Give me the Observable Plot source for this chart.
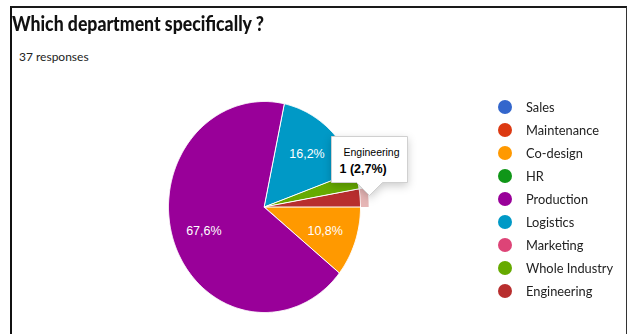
<!DOCTYPE html>
<html>
<head>
<meta charset="utf-8">
<script src="https://cdn.jsdelivr.net/npm/d3@7"></script>
<script src="https://cdn.jsdelivr.net/npm/@observablehq/plot@0.6"></script>
<style>
  html, body { margin: 0; padding: 0; background: #fff; }
  body { width: 628px; height: 334px; position: relative; overflow: hidden; }
  #frame { position: absolute; left: 10px; top: 6px; width: 617px; height: 340px; box-sizing: border-box;
           border-top: 2px solid #1a1a1a; border-left: 2px solid #111; border-right: 1.5px solid #333; pointer-events: none; }
  #title { position: absolute; left: 12px; top: 10px; font-family: Lato, sans-serif; font-weight: 900; font-size: 21px;
           color: #111; white-space: nowrap; transform-origin: 0 0; transform: scaleX(0.84); }
  #sub { position: absolute; left: 19px; top: 49px; font-family: Lato, sans-serif; font-size: 12px; color: #222; white-space: nowrap; }
  #chart { position: absolute; left: 0; top: 0; }
  #legend { position: absolute; left: 498px; top: 95px; font-family: Lato, sans-serif; font-size: 13.5px; color: #222; }
  .item { height: 23.1px; display: flex; align-items: center; white-space: nowrap; }
  .sw { width: 14px; height: 14px; border-radius: 50%; margin-right: 14px; flex: none; }
  .lab { display: inline-block; transform-origin: 0 50%; transform: scaleX(0.95); }
</style>
</head>
<body>
<div id="chart"></div>
<div id="title"></div>
<div id="sub"></div>
<div id="legend"></div>
<div id="frame"></div>
<script>
const titleText = "Which department specifically ?";
const totalResponses = 37;
const categories = ["Sales", "Maintenance", "Co-design", "HR", "Production", "Logistics", "Marketing", "Whole Industry", "Engineering"];
const counts = [0, 0, 4, 0, 25, 6, 0, 1, 1];
const colors = ["#3366cc", "#dc3912", "#ff9900", "#109618", "#990099", "#0099c6", "#dd4477", "#66aa00", "#b82e2e"];
const highlighted = "Engineering";

const table = categories.map((label, i) => ({label, count: counts[i]}));
const fmtPct = v => (Math.round(v * 1000) / 10).toFixed(1).replace(".", ",") + "%";

const arcs = d3.pie().value(d => d.count).sort(null)
  .startAngle(Math.PI / 2).endAngle(Math.PI / 2 + 2 * Math.PI)(table)
  .filter(a => a.data.count > 0);

function ring(a0, a1, r0, r1) {
  const pts = [];
  const n = Math.max(2, Math.ceil((a1 - a0) / 0.01));
  for (let i = 0; i <= n; i++) { const t = a0 + (a1 - a0) * i / n; pts.push([r1 * Math.sin(t), r1 * Math.cos(t)]); }
  if (r0 === 0) pts.push([0, 0]);
  else for (let i = n; i >= 0; i--) { const t = a0 + (a1 - a0) * i / n; pts.push([r0 * Math.sin(t), r0 * Math.cos(t)]); }
  return pts;
}

const slicePts = arcs.flatMap(a => ring(a.startAngle, a.endAngle, 0, 1).map(([x, y]) => ({label: a.data.label, x, y})));
const hi = arcs.find(a => a.data.label === highlighted);
const hiPts = ring(hi.startAngle, hi.endAngle, 1, 1.085).map(([x, y]) => ({label: hi.data.label, x, y}));

const labels = arcs.filter(a => a.data.count / totalResponses >= 0.05).map(a => {
  const m = (a.startAngle + a.endAngle) / 2, r = 0.67;
  return {x: r * Math.sin(m), y: r * Math.cos(m), text: fmtPct(a.data.count / totalResponses)};
});

const hm = (hi.startAngle + hi.endAngle) / 2;
const tipData = [{x: Math.sin(hm), y: Math.cos(hm), title: `${hi.data.label}\n${hi.data.count} (${fmtPct(hi.data.count / totalResponses)})`}];

const chart = Plot.plot({
  width: 628, height: 334, margin: 0,
  style: {background: "transparent", fontFamily: "'Liberation Sans', Arial, sans-serif"},
  x: {domain: [-1, 1], range: [168, 360], axis: null},
  y: {domain: [-1, 1], range: [312, 101], axis: null},
  color: {domain: categories, range: colors},
  marks: [
    Plot.line(hiPts, {x: "x", y: "y", z: "label", fill: "label", fillOpacity: 0.35, stroke: "none", curve: "linear-closed"}),
    Plot.line(slicePts, {x: "x", y: "y", z: "label", fill: "label", stroke: "white", strokeWidth: 1, curve: "linear-closed"}),
    Plot.text(labels, {x: "x", y: "y", text: "text", fill: "white", fontSize: 12.5}),
    Plot.tip(tipData, {x: "x", y: "y", title: "title", anchor: "bottom", dx: 9, dy: -3, fontSize: 11, lineHeight: 1.35,
      textPadding: 8, pointerSize: 26, fill: "white", stroke: "#d0d0d0"})
  ]
});
document.getElementById("chart").append(chart);

const tspans = chart.querySelectorAll('g[aria-label="tip"] tspan');
if (tspans.length >= 2) {
  tspans[0].setAttribute("font-size", "10.5");
  tspans[0].setAttribute("dx", "4");
  tspans[1].setAttribute("font-weight", "bold");
  tspans[1].setAttribute("font-size", "12.5");
}

document.getElementById("title").textContent = titleText;
document.getElementById("sub").textContent = `${totalResponses} responses`;
const color = chart.scale("color");
const leg = document.getElementById("legend");
categories.forEach(c => {
  const it = document.createElement("div"); it.className = "item";
  const sw = document.createElement("span"); sw.className = "sw"; sw.style.background = color.apply(c);
  const tx = document.createElement("span"); tx.className = "lab"; tx.textContent = c;
  it.append(sw, tx); leg.append(it);
});
</script>
</body>
</html>
